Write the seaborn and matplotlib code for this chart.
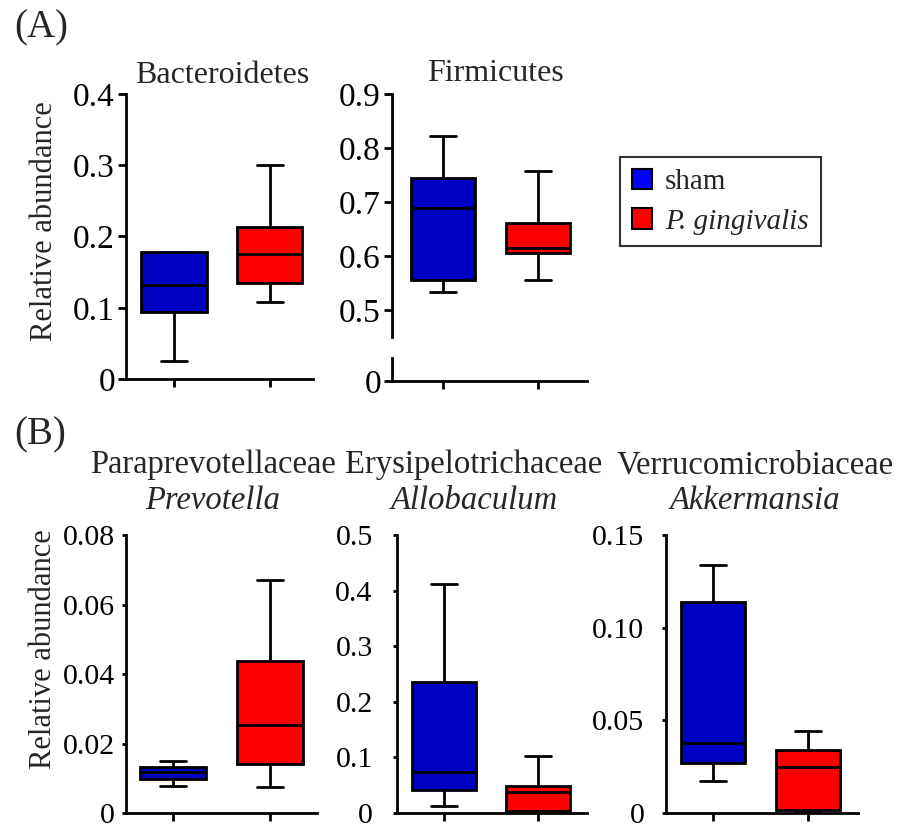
import numpy as np
import pandas as pd
import matplotlib
matplotlib.use("Agg")
import matplotlib.pyplot as plt
from matplotlib.patches import Patch
import seaborn as sns

sns.set_style("white")
plt.rcParams['font.family'] = ['Liberation Serif', 'DejaVu Serif']

# ---- data: five-number summaries (min, Q1, median, Q3, max) ----
groups = ["sham", "P. gingivalis"]
bact_sham = [0.025, 0.094, 0.132, 0.178, 0.178]
bact_pg = [0.108, 0.135, 0.175, 0.213, 0.300]
firm_sham = [0.533, 0.555, 0.689, 0.744, 0.822]
firm_pg = [0.555, 0.605, 0.615, 0.661, 0.757]
prev_sham = [0.0079, 0.0099, 0.0119, 0.0133, 0.0150]
prev_pg = [0.0076, 0.0141, 0.0254, 0.0438, 0.0670]
allo_sham = [0.012, 0.042, 0.074, 0.235, 0.412]
allo_pg = [0.002, 0.004, 0.037, 0.049, 0.102]
akk_sham = [0.017, 0.027, 0.038, 0.114, 0.134]
akk_pg = [0.001, 0.0016, 0.025, 0.034, 0.044]

bact_ticks = [0, 0.1, 0.2, 0.3, 0.4]
bact_labels = ["0", "0.1", "0.2", "0.3", "0.4"]
firm_ticks = [0.5, 0.6, 0.7, 0.8, 0.9]
firm_labels = ["0.5", "0.6", "0.7", "0.8", "0.9"]
prev_ticks = [0, 0.02, 0.04, 0.06, 0.08]
prev_labels = ["0", "0.02", "0.04", "0.06", "0.08"]
allo_ticks = [0, 0.1, 0.2, 0.3, 0.4, 0.5]
allo_labels = ["0", "0.1", "0.2", "0.3", "0.4", "0.5"]
akk_ticks = [0, 0.05, 0.10, 0.15]
akk_labels = ["0", "0.05", "0.10", "0.15"]

box_colors = {"sham": "#0000C4", "P. gingivalis": "#FF0000"}
legend_colors = ["#0000FF", "#FF0000"]

W, H = 897, 830
fig = plt.figure(figsize=(W / 100, H / 100), dpi=100)


def add_ax(left, top, right, bottom):
    return fig.add_axes([left / W, 1 - bottom / H, (right - left) / W, (bottom - top) / H])


def make_df(a, b):
    return pd.DataFrame({
        "group": [groups[0]] * len(a) + [groups[1]] * len(b),
        "value": list(a) + list(b),
    })


LW = 2.0


def draw_box(ax, a, b):
    df = make_df(a, b)
    sns.boxplot(data=df, x="group", y="value", hue="group", order=groups,
                hue_order=groups, palette=box_colors, width=0.68,
                whis=(0, 100), showfliers=False, linewidth=LW,
                linecolor="black", legend=False, ax=ax, capwidths=0.27,
                saturation=1)
    ax.set_xlabel("")
    ax.set_ylabel("")


def style_ax(ax, xlim, ylim, ticks, labels, tick_fs, ylen, ypad):
    ax.set_xlim(*xlim)
    ax.set_ylim(*ylim)
    ax.set_yticks(ticks, labels)
    ax.set_xticks([0, 1], ["", ""])
    for s in ["top", "right"]:
        ax.spines[s].set_visible(False)
    for s in ["left", "bottom"]:
        ax.spines[s].set_linewidth(LW)
        ax.spines[s].set_color("black")
    ax.tick_params(axis="y", direction="out", length=ylen, width=LW,
                   labelsize=tick_fs, pad=ypad, left=True, colors="black")
    ax.tick_params(axis="x", direction="out", length=6, width=LW,
                   bottom=True, colors="black")
    ax.grid(False)
    ax.set_facecolor("none")


TICK_A = 24
TICK_B = 21.5
TITLE_A = 23
TITLE_B = 23.5
YLAB = 22

# ---- Panel A ----
ax1 = add_ax(126, 94, 313, 379)
draw_box(ax1, bact_sham, bact_pg)
style_ax(ax1, (-0.5, 1.45), (0, 0.4), bact_ticks, bact_labels, TICK_A, 6, 2)
ax1.set_ylabel("Relative abundance", fontsize=YLAB)
ax1.yaxis.set_label_coords(-0.36, 0.553)

ax2 = add_ax(392, 94, 587, 337)
draw_box(ax2, firm_sham, firm_pg)
style_ax(ax2, (-0.54, 1.52), (0.45, 0.9), firm_ticks, firm_labels, TICK_A, 6, 2)
ax2.spines["bottom"].set_visible(False)
ax2.tick_params(axis="x", bottom=False)

ax2b = add_ax(392, 358, 587, 381)
style_ax(ax2b, (-0.54, 1.52), (0, 1), [0], ["0"], TICK_A, 6, 2)

fig.text(222 / W, 1 - 83 / H, "Bacteroidetes", ha="center", va="baseline", fontsize=TITLE_A)
fig.text(495 / W, 1 - 81 / H, "Firmicutes", ha="center", va="baseline", fontsize=TITLE_A)
fig.text(14 / W, 1 - 37 / H, "(A)", ha="left", va="baseline", fontsize=28)

handles = [Patch(facecolor=c, edgecolor="black", linewidth=1.5) for c in legend_colors]
leg = fig.legend(handles, groups, loc="upper left",
                 bbox_to_anchor=(620 / W, 1 - 157 / H), borderaxespad=0,
                 fontsize=21, frameon=True, fancybox=False, edgecolor="black",
                 handlelength=0.7, handleheight=0.7, handletextpad=0.45,
                 labelspacing=0.45, borderpad=0.4)
leg.get_frame().set_linewidth(1.5)
leg.get_texts()[1].set_style("italic")

# ---- Panel B ----
B_BOT = 813
ax3 = add_ax(126, 535, 317, B_BOT)
draw_box(ax3, prev_sham, prev_pg)
style_ax(ax3, (-0.485, 1.48), (0, 0.08), prev_ticks, prev_labels, TICK_B, 3, 5)
ax3.set_ylabel("Relative abundance", fontsize=YLAB)
ax3.yaxis.set_label_coords(-0.356, 0.588)

ax4 = add_ax(397, 535, 587, B_BOT)
draw_box(ax4, allo_sham, allo_pg)
style_ax(ax4, (-0.5, 1.52), (0, 0.5), allo_ticks, allo_labels, TICK_B, 3, 14.5)

ax5 = add_ax(666, 535, 858, B_BOT)
draw_box(ax5, akk_sham, akk_pg)
style_ax(ax5, (-0.495, 1.53), (0, 0.15), akk_ticks, akk_labels, TICK_B, 3, 12.5)

fig.text(14 / W, 1 - 444 / H, "(B)", ha="left", va="baseline", fontsize=28)
fam = [("Paraprevotellaceae", "Prevotella", 213),
       ("Erysipelotrichaceae", "Allobaculum", 474),
       ("Verrucomicrobiaceae", "Akkermansia", 755)]
for f, g, cx in fam:
    fig.text(cx / W, 1 - 473 / H, f, ha="center", va="baseline", fontsize=TITLE_B)
    fig.text(cx / W, 1 - 509 / H, g, ha="center", va="baseline", fontsize=TITLE_B,
             style="italic")

fig.savefig("out.png", dpi=100, facecolor="white")
